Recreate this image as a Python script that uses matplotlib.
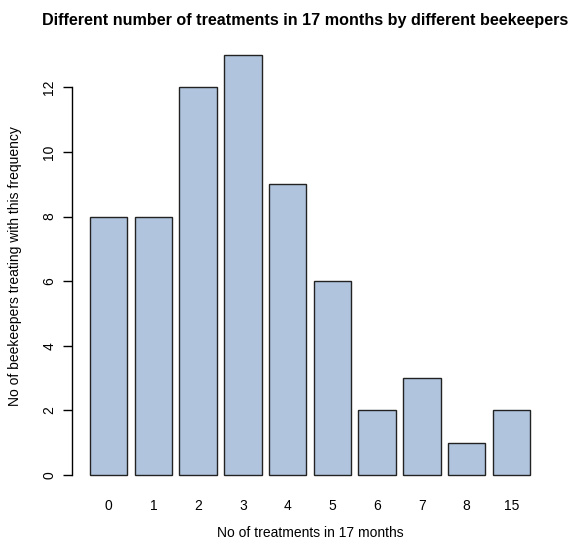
import matplotlib
matplotlib.use("Agg")
import matplotlib.pyplot as plt
import numpy as np

categories = ["0", "1", "2", "3", "4", "5", "6", "7", "8", "15"]
counts = [8, 8, 12, 13, 9, 6, 2, 3, 1, 2]
yticks = [0, 2, 4, 6, 8, 10, 12]

plt.rcParams['font.family'] = ['Liberation Sans', 'DejaVu Sans']

W, H = 571, 543
fig = plt.figure(figsize=(W / 100, H / 100), dpi=100)
ax = fig.add_axes([72.4 / W, 1 - 491.8 / H, (547.6 - 72.4) / W, (491.8 - 38.2) / H])

n = len(counts)
lefts = 0.2 + np.arange(n) * 1.2
centers = lefts + 0.5
ax.bar(centers, counts, width=1.0, color="#B0C4DE", edgecolor="#222222", linewidth=1.0)

span = lefts[-1] + 1.0 - 0.2
ax.set_xlim(0.2 - 0.04 * span, lefts[-1] + 1.0 + 0.04 * span)
ymax = max(counts)
ax.set_ylim(-0.04 * ymax, ymax * 1.04)

for s in ["top", "right", "bottom"]:
    ax.spines[s].set_visible(False)
ax.spines["left"].set_bounds(0, 12)
ax.spines["left"].set_linewidth(1.0)

fs = 10
ax.set_yticks(yticks)
ax.set_yticklabels([str(v) for v in yticks], rotation=90, va="center", fontsize=fs)
ax.tick_params(axis="y", length=6.5, width=1.0, pad=5)
ax.set_xticks(centers)
ax.set_xticklabels(categories, fontsize=fs)
ax.tick_params(axis="x", length=0, pad=5)

fig.text(305 / W, 1 - 21 / H, "Different number of treatments in 17 months by different beekeepers",
         ha="center", va="center", fontsize=11.6, fontweight="bold")
fig.text(310 / W, 1 - 533 / H, "No of treatments in 17 months", ha="center", va="center", fontsize=fs)
fig.text(15 / W, 1 - 266 / H, "No of beekeepers treating with this frequency", ha="center", va="center",
         rotation=90, fontsize=fs)

fig.savefig("out.png", dpi=100)
